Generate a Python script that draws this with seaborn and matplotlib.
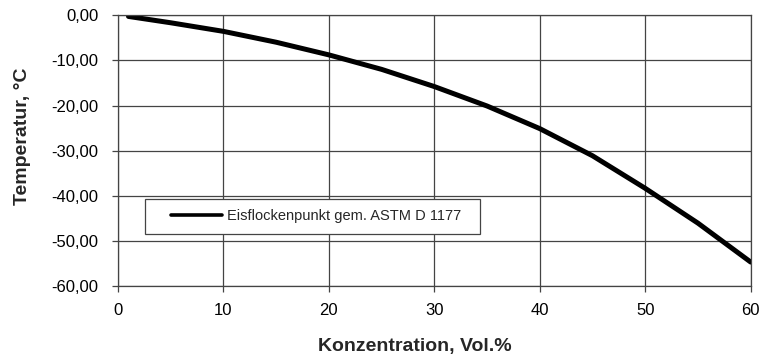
import numpy as np
import pandas as pd
import matplotlib
matplotlib.use("Agg")
import matplotlib.pyplot as plt
import seaborn as sns
from matplotlib.lines import Line2D
from matplotlib.legend_handler import HandlerBase
from matplotlib.ticker import FuncFormatter

# values
konzentration = [1, 5, 10, 15, 20, 25, 30, 35, 40, 45, 50, 55, 60]
temperatur = [-0.3, -1.7, -3.6, -6.0, -8.8, -12.0, -15.8, -20.1, -25.1, -31.1, -38.3, -46.0, -54.6]
serie = "Eisflockenpunkt gem. ASTM D 1177"
x_ticks = [0, 10, 20, 30, 40, 50, 60]
y_ticks = [-60, -50, -40, -30, -20, -10, 0]

dt = pd.DataFrame({"Konzentration": konzentration, "Temperatur": temperatur})

sns.set_style("white")
plt.rcParams["font.family"] = ["Liberation Sans", "DejaVu Sans"]

fig = plt.figure(figsize=(7.66, 3.59), dpi=100)
ax = fig.add_axes([0.154, 0.202, 0.826, 0.756])

sns.lineplot(data=dt, x="Konzentration", y="Temperatur", ax=ax, color="black", linewidth=3.6)
ax.lines[0].set_solid_joinstyle("round")

ax.set_xlim(0, 60)
ax.set_ylim(-60, 0)
ax.set_xticks(x_ticks)
ax.set_yticks(y_ticks)
ax.yaxis.set_major_formatter(FuncFormatter(lambda v, p: f"{v:.2f}".replace(".", ",")))
ax.grid(True, color="#444444", linewidth=0.9)
for s in ax.spines.values():
    s.set_visible(True)
    s.set_color("#444444")
    s.set_linewidth(0.9)
ax.tick_params(axis="both", which="major", direction="out", length=4, width=0.9,
               color="#444444", labelsize=12, labelcolor="black", left=True, bottom=True)
ax.tick_params(axis="y", pad=10)
ax.tick_params(axis="x", pad=8)

ax.set_xlabel("Konzentration, Vol.%", fontsize=14, fontweight="bold")
ax.set_ylabel("Temperatur, °C", fontsize=14, fontweight="bold")
ax.xaxis.set_label_coords(0.469, -0.19)
ax.yaxis.set_label_coords(-0.138, 0.552)


class ShortLine(HandlerBase):
    # legend line starts a bit inside the handle box, like the original
    def create_artists(self, legend, orig_handle, xdescent, ydescent, width, height, fontsize, trans):
        y = height / 2 - ydescent
        line = Line2D([-xdescent + width * 0.24, -xdescent + width], [y, y], color="black", linewidth=2.6)
        line.set_transform(trans)
        return [line]


h = Line2D([], [], color="black")
leg = ax.legend([h], [serie + "  "], handler_map={Line2D: ShortLine()},
                loc="upper left", bbox_to_anchor=(0.043, 0.322), borderaxespad=0,
                fontsize=10.5, frameon=True, fancybox=False, framealpha=1,
                edgecolor="#444444", borderpad=0.7, handlelength=4.6, handletextpad=0.3)
leg.get_frame().set_linewidth(0.9)

fig.savefig("out.png", dpi=100)
